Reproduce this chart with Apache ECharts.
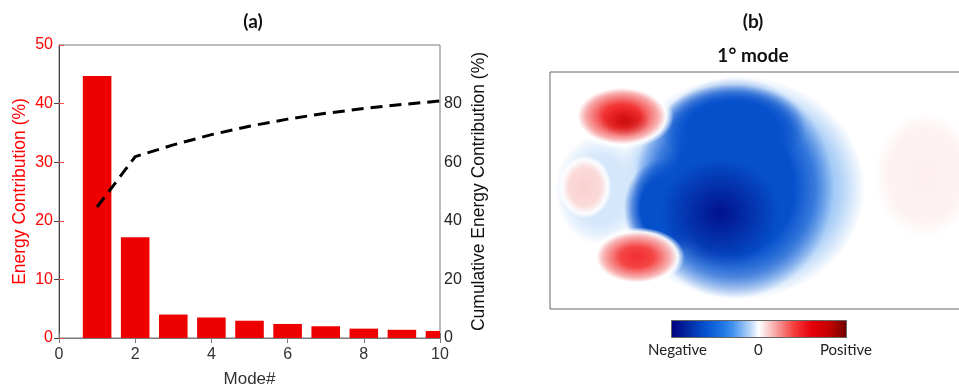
<!DOCTYPE html>
<html><head><meta charset="utf-8">
<script src="https://cdn.jsdelivr.net/npm/echarts@6/dist/echarts.min.js"></script>
<style>html,body{margin:0;padding:0;background:#fff}#c{width:959px;height:388px}</style>
</head><body><div id="c"></div>
<script>
// ---- Panel (a) data ----
var modes = [1, 2, 3, 4, 5, 6, 7, 8, 9, 10];
var energy = [44.7, 17.2, 4.0, 3.5, 2.95, 2.4, 2.0, 1.6, 1.4, 1.2];
var cumulative = [44.7, 61.9, 65.9, 69.4, 72.3, 74.7, 76.7, 78.3, 79.7, 80.9];

// ---- Panel (b) data: mode-shape field as blobs (domain units 0..100 x 0..58) ----
var blobX   = [45.2, 11.9, 43.8, 27.4, 43.5, 40.5, 89.3, 8.3, 17.1, 17.9, 20.7];
var blobY   = [29.6, 29.1, 29.6, 24.7, 44.5, 23.5, 32.8, 29.9, 47.2, 45.8, 12.7];
var blobRX  = [29.8, 10.7, 23.8, 9.8, 17.5, 14.3, 14.3, 6.4, 12.4, 6.0, 11.4];
var blobRY  = [27.4, 13.5, 27.0, 12.2, 10.5, 13.5, 18.4, 7.8, 8.1, 3.7, 7.3];
var blobAmp = [-0.2, -0.06, -0.62, -0.62, -0.62, -0.95, 0.035, 0.1, 0.5, 0.82, 0.45];
var colorbarLabels = ['Negative', '0', 'Positive'];

// colormap (blue-white-red)
var cmap = [
  [-1.0, [0, 0, 122]], [-0.6, [6, 84, 208]], [-0.35, [40, 130, 235]], [-0.15, [150, 195, 245]],
  [0.0, [255, 255, 255]], [0.15, [248, 185, 185]], [0.4, [245, 60, 60]], [0.6, [230, 0, 10]],
  [0.8, [195, 0, 0]], [1.0, [110, 0, 0]]
];
function colorAt(v, a) {
  if (v <= cmap[0][0]) v = cmap[0][0];
  if (v >= cmap[cmap.length - 1][0]) v = cmap[cmap.length - 1][0];
  for (var i = 0; i < cmap.length - 1; i++) {
    var p = cmap[i], q = cmap[i + 1];
    if (v >= p[0] && v <= q[0]) {
      var t = (v - p[0]) / (q[0] - p[0]);
      var c = [0, 1, 2].map(function (k) { return Math.round(p[1][k] + (q[1][k] - p[1][k]) * t); });
      return 'rgba(' + c[0] + ',' + c[1] + ',' + c[2] + ',' + (a == null ? 1 : a) + ')';
    }
  }
}

var blobData = blobX.map(function (x, i) { return [x, blobY[i], blobRX[i], blobRY[i], blobAmp[i]]; });
var barData = modes.map(function (m, i) { return [m, energy[i]]; });
var lineData = modes.map(function (m, i) { return [m, cumulative[i]]; });

var chart = echarts.init(document.getElementById('c'), null, {renderer: 'canvas'});
var gray = '#7a7a7a';
var fontA = "'Liberation Sans', Arial, sans-serif";
var fontB = "Lato, 'Open Sans', sans-serif";
var barHalf = 0.375; // bar half-width in mode units

var cbStops = [];
for (var s = 0; s <= 20; s++) { cbStops.push({offset: s / 20, color: colorAt(-1 + s / 10)}); }

var option = {
  animation: false,
  backgroundColor: '#fff',
  title: [
    {text: '(a)', left: 248, top: 7, textAlign: 'center', textStyle: {fontFamily: fontB, fontWeight: 'bold', fontSize: 19, color: '#111'}},
    {text: '(b)', left: 748, top: 7, textAlign: 'center', textStyle: {fontFamily: fontB, fontWeight: 'bold', fontSize: 19, color: '#111'}},
    {text: '1° mode', left: 748, top: 41, textAlign: 'center', textStyle: {fontFamily: fontB, fontWeight: 'bold', fontSize: 19, color: '#111'}}
  ],
  grid: [
    {left: 59, top: 45, width: 381, height: 293, show: true, borderColor: gray, borderWidth: 1, outerBoundsMode: 'none', containLabel: false},
    {left: 550, top: 72, width: 420, height: 237, show: true, borderColor: '#666', borderWidth: 1, outerBoundsMode: 'none', containLabel: false}
  ],
  xAxis: [
    {type: 'value', gridIndex: 0, min: 0, max: 10, interval: 2,
     axisLine: {lineStyle: {color: gray}}, axisTick: {inside: true, length: 5, lineStyle: {color: gray}},
     axisLabel: {color: '#333', fontSize: 16, fontFamily: fontA, margin: 9},
     splitLine: {show: false},
     name: 'Mode#', nameLocation: 'middle', nameGap: 33, nameTextStyle: {color: '#333', fontSize: 17, fontFamily: fontA}},
    {type: 'value', gridIndex: 0, position: 'top', min: 0, max: 10, interval: 2,
     axisLine: {show: true, lineStyle: {color: gray}}, axisTick: {inside: true, length: 5, lineStyle: {color: gray}},
     axisLabel: {show: false}, splitLine: {show: false}},
    {type: 'value', gridIndex: 1, min: 0, max: 100, show: false}
  ],
  yAxis: [
    {type: 'value', gridIndex: 0, min: 0, max: 50, interval: 10,
     axisLine: {show: true, lineStyle: {color: '#ff5050'}}, axisTick: {show: true, inside: true, length: 5, lineStyle: {color: '#ff5050'}},
     axisLabel: {color: '#f00', fontSize: 16, fontFamily: fontA, margin: 6},
     splitLine: {show: false},
     name: 'Energy Contribution (%)', nameLocation: 'middle', nameGap: 30, nameRotate: 90,
     nameTextStyle: {color: '#f00', fontSize: 17.5, fontFamily: fontA}},
    {type: 'value', gridIndex: 0, position: 'right', min: 0, max: 100, interval: 20,
     axisLine: {show: true, lineStyle: {color: '#444'}}, axisTick: {show: true, inside: true, length: 5, lineStyle: {color: '#444'}},
     axisLabel: {color: '#222', fontSize: 16, fontFamily: fontA, margin: 4, showMaxLabel: false},
     splitLine: {show: false},
     name: 'Cumulative Energy Contribution (%)', nameLocation: 'middle', nameGap: 30, nameRotate: 90,
     nameTextStyle: {color: '#111', fontSize: 17.5, fontFamily: fontA}},
    {type: 'value', gridIndex: 1, min: 0, max: 58, show: false}
  ],
  series: [
    {type: 'custom', xAxisIndex: 0, yAxisIndex: 0, data: barData, clip: true,
     renderItem: function (params, api) {
       var p0 = api.coord([api.value(0) - barHalf, api.value(1)]);
       var p1 = api.coord([api.value(0) + barHalf, 0]);
       var shape = echarts.graphic.clipRectByRect(
         {x: p0[0], y: p0[1], width: p1[0] - p0[0], height: p1[1] - p0[1]},
         {x: params.coordSys.x, y: params.coordSys.y, width: params.coordSys.width, height: params.coordSys.height});
       return shape && {type: 'rect', shape: shape, style: {fill: '#ee0000'}};
     }},
    {type: 'line', xAxisIndex: 0, yAxisIndex: 1, data: lineData, symbol: 'none', z: 3,
     lineStyle: {color: '#000', width: 3, type: [12, 7]}},
    {type: 'custom', xAxisIndex: 2, yAxisIndex: 2, data: blobData, clip: true,
     renderItem: function (params, api) {
       var c = api.coord([api.value(0), api.value(1)]);
       var sz = api.size([api.value(2), api.value(3)], [api.value(0), api.value(1)]);
       var amp = api.value(4);
       var stops;
       if (Math.abs(amp) >= 0.8) {
         stops = [
           {offset: 0, color: colorAt(amp, amp > 0 ? 0.7 : 0.9)},
           {offset: 0.4, color: colorAt(amp, amp > 0 ? 0.4 : 0.55)},
           {offset: 1, color: colorAt(amp, 0)}
         ];
       } else if (amp > 0.3) {
         stops = [
           {offset: 0, color: colorAt(amp)},
           {offset: 0.35, color: colorAt(amp * 0.85)},
           {offset: 0.7, color: colorAt(amp * 0.35)},
           {offset: 0.85, color: 'rgba(255,255,255,0.95)'},
           {offset: 1, color: 'rgba(255,255,255,0)'}
         ];
       } else if (amp > 0) {
         stops = [
           {offset: 0, color: colorAt(amp)},
           {offset: 0.6, color: colorAt(amp * 0.8)},
           {offset: 0.85, color: 'rgba(255,255,255,0.9)'},
           {offset: 1, color: 'rgba(255,255,255,0)'}
         ];
       } else {
         stops = [
           {offset: 0, color: colorAt(amp)},
           {offset: 0.6, color: colorAt(amp)},
           {offset: 0.8, color: colorAt(amp, 0.6)},
           {offset: 1, color: colorAt(amp, 0)}
         ];
       }
       return {
         type: 'circle', x: c[0], y: c[1], scaleX: sz[0] / sz[1],
         shape: {cx: 0, cy: 0, r: sz[1]},
         style: {fill: new echarts.graphic.RadialGradient(0.5, 0.5, 0.5, stops)}
       };
     }}
  ],
  graphic: [
    {type: 'rect', left: 671, top: 320, shape: {width: 175, height: 17},
     style: {fill: new echarts.graphic.LinearGradient(0, 0, 1, 0, cbStops), stroke: '#666', lineWidth: 1}},
    {type: 'text', left: 648, top: 343, style: {text: colorbarLabels[0], fontSize: 15, fontFamily: fontB, fill: '#222'}},
    {type: 'text', left: 754, top: 343, style: {text: colorbarLabels[1], fontSize: 15, fontFamily: fontB, fill: '#222'}},
    {type: 'text', left: 820, top: 343, style: {text: colorbarLabels[2], fontSize: 15, fontFamily: fontB, fill: '#222'}}
  ]
};
chart.setOption(option);
</script></body></html>
